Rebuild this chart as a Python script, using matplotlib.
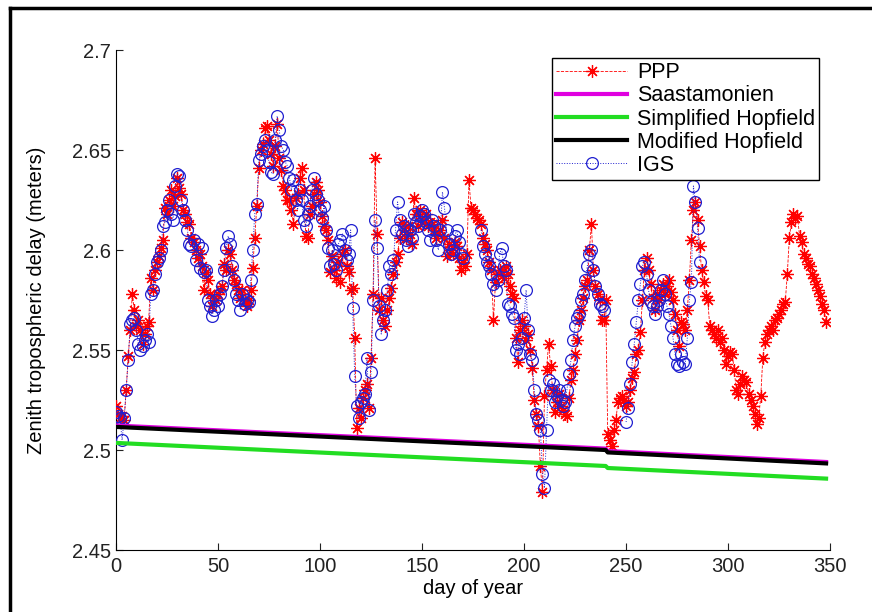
import numpy as np
import matplotlib

matplotlib.use("Agg")

import matplotlib.pyplot as plt
from matplotlib.lines import Line2D
from matplotlib.ticker import FuncFormatter

plt.rcParams["font.family"] = ["Liberation Sans", "DejaVu Sans"]

nan = np.nan

# PPP zenith delay, one value per day starting at day 0
ppp = [
    2.522, 2.518, 2.516, 2.517, 2.515, 2.530, 2.547, 2.560, 2.578, 2.570,
    2.562, 2.565, 2.560, 2.553, 2.558, 2.562, 2.564, 2.586, 2.580, 2.590,
    2.594, 2.597, 2.601, 2.605, 2.621, 2.618, 2.625, 2.630, 2.622, 2.627,
    2.636, 2.631, 2.628, 2.620, 2.618, 2.614, 2.613, 2.606, 2.604, 2.600,
    2.596, 2.598, 2.592, 2.580, 2.589, 2.585, 2.578, 2.572, 2.576, 2.575,
    2.578, 2.580, 2.582, 2.593, 2.590, 2.600, 2.598, 2.590, 2.585, 2.583,
    2.580, 2.576, 2.580, 2.575, 2.572, 2.575, 2.580, 2.591, 2.606, 2.622,
    2.641, 2.650, 2.653, 2.661, 2.662, 2.655, 2.648, 2.642, 2.652, 2.663,
    2.646, 2.640, 2.632, 2.630, 2.625, 2.625, 2.620, 2.613, 2.626, 2.628,
    2.636, 2.641, 2.630, 2.607, 2.606, 2.618, 2.622, 2.628, 2.634, 2.630,
    2.624, 2.617, 2.612, 2.610, 2.605, 2.589, 2.597, 2.590, 2.586, 2.594,
    2.584, 2.598, 2.600, 2.592, 2.589, 2.580, 2.581, 2.556, 2.511, 2.521,
    2.516, 2.526, 2.530, 2.533, 2.521, 2.546, 2.578, 2.646, 2.608, 2.570,
    2.576, 2.565, 2.562, 2.570, 2.576, 2.581, 2.588, 2.594, 2.598, 2.606,
    2.614, 2.610, 2.606, 2.612, 2.608, 2.603, 2.626, 2.618, 2.612, 2.620,
    2.616, 2.614, 2.618, 2.612, 2.614, 2.613, 2.610, 2.606, 2.608, 2.610,
    2.615, 2.606, 2.597, 2.603, 2.600, 2.598, 2.604, 2.602, 2.596, 2.590,
    2.594, 2.592, 2.598, 2.635, 2.621, 2.620, 2.618, 2.616, 2.615, 2.613,
    2.606, 2.603, 2.600, 2.594, 2.590, 2.565, 2.584, 2.588, 2.590, 2.589,
    2.586, 2.592, 2.588, 2.582, 2.578, 2.576, 2.556, 2.544, 2.560, 2.565,
    2.562, 2.555, 2.558, 2.550, 2.541, 2.525, 2.518, 2.512, 2.492, 2.479,
    2.527, 2.540, 2.553, 2.542, 2.530, 2.519, 2.524, 2.528, 2.522, 2.520,
    2.518, 2.517, 2.526, 2.535, 2.540, 2.548, 2.555, 2.565, 2.570, 2.576,
    2.582, 2.585, 2.600, 2.613, 2.590, 2.582, 2.578, 2.575, 2.565, 2.565,
    2.575, 2.508, 2.505, 2.502, 2.510, 2.515, 2.524, 2.526, 2.527, 2.525,
    2.522, 2.524, 2.530, 2.536, 2.539, 2.548, 2.550, 2.559, 2.575, 2.590,
    2.596, 2.590, 2.583, 2.576, 2.570, 2.578, 2.575, 2.580, 2.583, 2.578,
    2.582, 2.585, 2.579, 2.575, 2.568, 2.560, 2.552, 2.564, 2.563, 2.560,
    2.570, 2.585, 2.605, 2.620, 2.624, 2.615, 2.602, 2.590, 2.584, 2.577,
    2.575, 2.562, 2.560, 2.558, 2.556, 2.560, 2.554, 2.556, 2.550, 2.543,
    2.547, 2.549, 2.548, 2.540, 2.530, 2.528, 2.533, 2.537, 2.535, 2.534,
    2.528, 2.525, 2.522, 2.518, 2.513, 2.516, 2.527, 2.546, 2.554, 2.558,
    2.560, 2.562, 2.560, 2.565, 2.566, 2.568, 2.570, 2.573, 2.574, 2.588,
    2.606, 2.614, 2.618, 2.616, 2.617, 2.607, 2.604, 2.598, 2.596, 2.593,
    2.592, 2.588, 2.586, 2.583, 2.580, 2.577, 2.573, 2.570, 2.564,
]

# IGS zenith delay, one value per day starting at day 0 (nan = missing)
igs = [
    2.519, 2.517, 2.516, 2.505, 2.516, 2.530, 2.545, 2.563, 2.565, 2.566,
    2.560, 2.553, 2.550, 2.552, 2.555, 2.558, 2.554, 2.578, 2.580, 2.588,
    2.594, 2.596, 2.600, 2.612, 2.614, 2.620, 2.625, 2.618, 2.615, 2.632,
    2.638, 2.637, 2.625, 2.620, 2.615, 2.610, 2.603, 2.602, 2.605, 2.595,
    2.603, 2.591, 2.601, 2.589, 2.590, 2.575, 2.572, 2.567, 2.570, 2.575,
    2.572, 2.578, 2.582, 2.590, 2.601, 2.607, 2.603, 2.592, 2.585, 2.578,
    2.575, 2.570, 2.578, 2.573, 2.575, 2.574, 2.585, 2.600, 2.618, 2.623,
    2.645, 2.648, 2.652, 2.655, 2.650, 2.644, 2.639, 2.638, 2.655, 2.667,
    2.660, 2.652, 2.650, 2.644, 2.642, 2.636, 2.630, 2.635, 2.625, 2.620,
    2.630, 2.625, 2.615, 2.612, 2.618, 2.622, 2.630, 2.636, 2.628, 2.625,
    2.620, 2.616, 2.622, 2.610, 2.601, 2.592, 2.600, 2.593, 2.590, 2.603,
    2.605, 2.608, 2.600, 2.595, 2.598, 2.610, 2.571, 2.537, 2.522, 2.516,
    2.524, 2.526, 2.528, 2.546, 2.520, 2.539, 2.575, 2.615, 2.601, 2.572,
    2.558, 2.565, 2.570, 2.580, 2.592, 2.588, 2.595, 2.610, 2.624, 2.615,
    2.608, 2.612, 2.605, 2.602, 2.610, 2.606, 2.618, 2.614, 2.612, 2.617,
    2.620, 2.618, 2.614, 2.610, 2.605, 2.615, 2.612, 2.605, 2.600, 2.610,
    2.629, 2.621, 2.610, 2.603, 2.598, 2.600, 2.607, 2.610, 2.604, 2.598,
    2.596, nan, nan, nan, nan, nan, nan, nan, nan, 2.610,
    2.602, 2.598, 2.594, 2.592, 2.588, 2.583, 2.580, 2.585, 2.598, 2.601,
    2.592, 2.590, 2.573, 2.572, 2.568, 2.566, 2.550, 2.553, 2.548, 2.556,
    2.566, 2.580, 2.560, 2.548, 2.545, 2.530, 2.518, 2.515, 2.510, 2.488,
    2.481, 2.510, 2.535, 2.530, 2.533, 2.524, 2.527, 2.530, 2.525, 2.522,
    2.524, 2.530, 2.538, 2.545, 2.555, 2.562, 2.566, 2.568, 2.575, 2.578,
    2.585, 2.592, 2.598, 2.600, 2.590, 2.582, 2.578, 2.573, 2.572, 2.570,
    nan, nan, nan, nan, nan, nan, nan, nan, nan, nan,
    2.514, 2.521, 2.533, 2.544, 2.553, 2.564, 2.575, 2.583, 2.592, 2.594,
    2.588, 2.580, 2.574, 2.572, 2.568, 2.572, 2.575, 2.580, 2.585, 2.578,
    2.572, 2.568, 2.562, 2.556, 2.548, 2.543, 2.542, 2.548, 2.544, 2.543,
    2.556, 2.575, 2.584, 2.632, 2.624, 2.611, 2.594,
]

# model lines: breakpoints (day, delay)
model_days = [1, 240, 241, 348]
saast = [2.5122, 2.5007, 2.4995, 2.4940]
simp_hopf = [2.5035, 2.4920, 2.4910, 2.4857]
mod_hopf = [2.5115, 2.5000, 2.4988, 2.4933]

ppp_days = np.arange(len(ppp))
igs_days = np.arange(len(igs))

fig = plt.figure(figsize=(8.72, 6.12), dpi=100)
ax = fig.add_axes([0.133, 0.1013, 0.819, 0.817])

ax.plot(ppp_days, ppp, color="red", linestyle="--", linewidth=0.6,
        marker=(8, 2, 0), markersize=9, markeredgewidth=0.9,
        label="PPP", zorder=3)
ax.plot(model_days, saast, color="#e000e0", linewidth=3, label="Saastamonien", zorder=4)
ax.plot(model_days, simp_hopf, color="#22dd22", linewidth=3,
        label="Simplified Hopfield", zorder=4)
ax.plot(model_days, mod_hopf, color="black", linewidth=3,
        label="Modified Hopfield", zorder=4)
ax.plot(igs_days, igs, color="#2020d0", linestyle=":", linewidth=0.7,
        marker="o", markersize=8.5, markerfacecolor="none",
        markeredgewidth=0.9, label="IGS", zorder=3)

ax.set_xlim(0, 350)
ax.set_ylim(2.45, 2.7)
ax.set_xticks(np.arange(0, 351, 50))
ax.set_yticks([2.45, 2.5, 2.55, 2.6, 2.65, 2.7])
ax.yaxis.set_major_formatter(FuncFormatter(lambda v, p: f"{v:g}"))

for side in ("top", "right"):
    ax.spines[side].set_visible(False)
ax.tick_params(direction="in", length=5, labelsize=14.5, colors="#222222")
ax.tick_params(axis="x", pad=5)
ax.set_xlabel("day of year", fontsize=14.5, labelpad=2)
ax.set_ylabel("Zenith tropospheric delay (meters)", fontsize=14.5, labelpad=19)

leg = ax.legend(loc="upper right", bbox_to_anchor=(0.985, 0.984),
                fontsize=15.5, frameon=True, fancybox=False,
                edgecolor="black", framealpha=1, borderpad=0.2,
                labelspacing=0.1, handlelength=3.3, handletextpad=0.45,
                borderaxespad=0)
leg.get_frame().set_linewidth(1.0)

# screenshot frame
fig.add_artist(Line2D([0.0115, 0.0115], [0, 0.987], transform=fig.transFigure,
                      color="black", linewidth=2.5))
fig.add_artist(Line2D([0.0115, 1.0], [0.987, 0.987], transform=fig.transFigure,
                      color="black", linewidth=2.5))

fig.savefig("out.png", dpi=100)
